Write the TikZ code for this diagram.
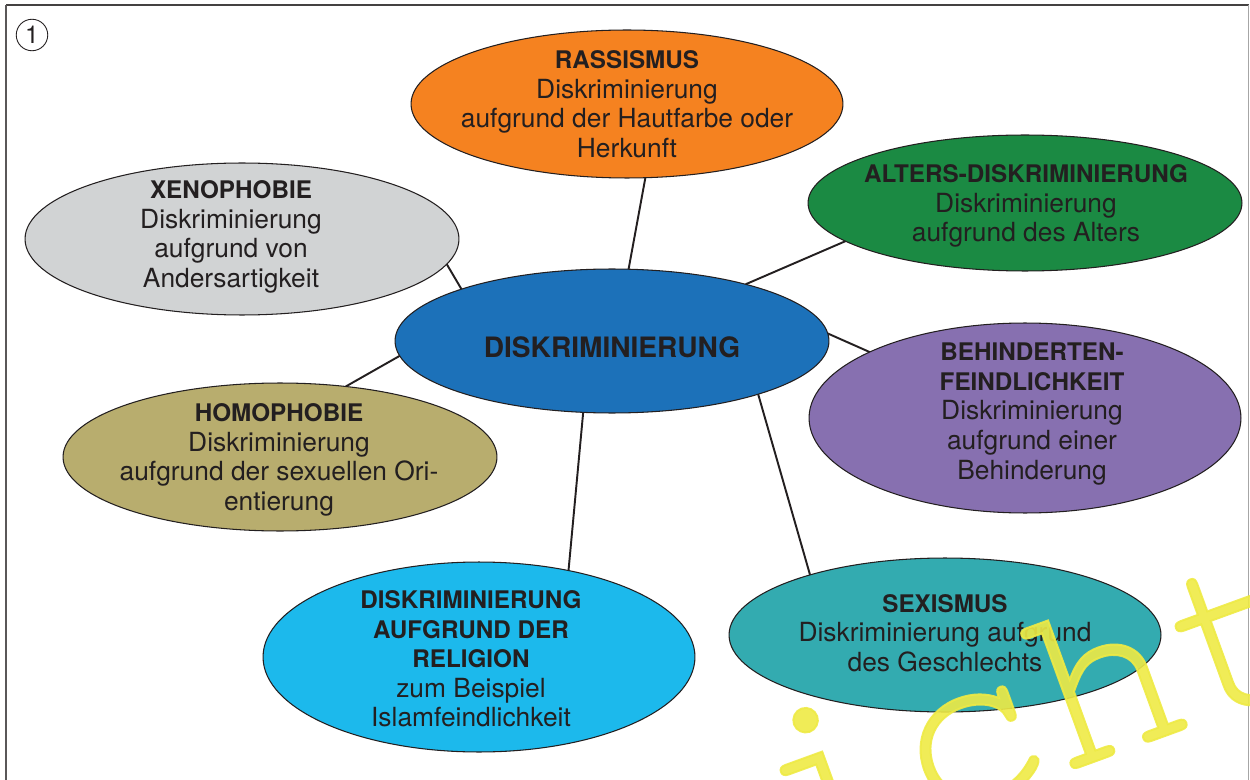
\documentclass[tikz,border=0pt]{standalone}
\usepackage{fontspec}
\setmainfont{TeX Gyre Heros}
\newfontfamily\wmfont{TeX Gyre Cursor}[FakeBold=0.8]
\usetikzlibrary{shapes.geometric,backgrounds}
\definecolor{cOrange}{HTML}{F58220}
\definecolor{cGreen}{HTML}{1B8A43}
\definecolor{cGrey}{HTML}{D1D3D4}
\definecolor{cBlue}{HTML}{1C71B9}
\definecolor{cPurple}{HTML}{8770B0}
\definecolor{cKhaki}{HTML}{B8AD6E}
\definecolor{cCyan}{HTML}{1CB9EC}
\definecolor{cTeal}{HTML}{33ABB0}
\definecolor{cText}{HTML}{231F20}
\definecolor{cYellow}{HTML}{EEEA45}
\newcommand\hd[1]{{\fontsize{13.8}{16.8}\selectfont\bfseries #1}}
\tikzset{
  bub/.style={ellipse, draw=cText, line width=0.6pt, inner sep=0pt, outer sep=0pt},
  lbl/.style={align=center, text=cText, font=\fontsize{15}{16.8}\selectfont, inner sep=0pt},
  con/.style={draw=cText, line width=1.1pt},
}
\begin{document}
\begin{tikzpicture}[x=0.02cm,y=-0.02cm]
\useasboundingbox (0,0) rectangle (1250,780);
% frame
\draw[line width=1.2pt, color=cText!85] (6,5) -- (1249,5);
\draw[line width=1pt, color=cText!75] (6,5) -- (6,780);
\draw[line width=0.5pt, color=black!35] (1248.5,5) -- (1248.5,780);
% number
\node[circle, draw=cText, line width=0.5pt, minimum size=0.63cm, inner sep=0pt,
      font=\fontsize{14}{14}\selectfont, text=cText] (num) at (32,35) {1};
% bubbles
\node[bub, fill=cBlue,   minimum width=8.68cm, minimum height=2.88cm] (C)   at (612,341) {};
\node[bub, fill=cOrange, minimum width=8.64cm, minimum height=2.96cm] (R)   at (627,104) {};
\node[bub, fill=cGreen,  minimum width=8.68cm, minimum height=2.72cm] (A)   at (1025,203) {};
\node[bub, fill=cGrey,   minimum width=8.68cm, minimum height=3.04cm] (X)   at (242,239) {};
\node[bub, fill=cPurple, minimum width=8.64cm, minimum height=3.80cm] (B)   at (1025,418) {};
\node[bub, fill=cKhaki,  minimum width=8.68cm, minimum height=2.96cm] (H)   at (280,457) {};
\node[bub, fill=cCyan,   minimum width=8.64cm, minimum height=3.80cm] (Rel) at (479,657) {};
\node[bub, fill=cTeal,   minimum width=8.64cm, minimum height=3.08cm] (S)   at (945,635) {};
% connectors
\begin{scope}[on background layer]
\draw[con] (C.77.6) -- (R.-76.3);
\draw[con] (C.23.1) -- (A.-168.8);
\draw[con] (C.161.9) -- (X.-7.3);
\draw[con] (C.184) -- (H.47.4);
\draw[con] (C.2.1) -- (B.157);
\draw[con] (C.-112.9) -- (Rel.44);
\draw[con] (C.-20) -- (S.156);
\end{scope}
% labels
\node[lbl, font=\fontsize{16}{18}\selectfont\bfseries] (Ct) at (612,347) {DISKRIMINIERUNG};
\node[lbl] (Rt) at (627,104) {\hd{RASSISMUS}\\Diskriminierung\\aufgrund der Hautfarbe oder\\Herkunft};
\node[lbl] (At) at (1026,206) {\hd{ALTERS-DISKRIMINIERUNG}\\Diskriminierung\\aufgrund des Alters};
\node[lbl] (Xt) at (231,237) {\hd{XENOPHOBIE}\\Diskriminierung\\aufgrund von\\Andersartigkeit};
\node[lbl] (Bt) at (1032,414) {\hd{BEHINDERTEN-}\\\hd{FEINDLICHKEIT}\\Diskriminierung\\aufgrund einer\\Behinderung};
\node[lbl] (Ht) at (279,460) {\hd{HOMOPHOBIE}\\Diskriminierung\\aufgrund der sexuellen Ori-\\entierung};
\node[lbl] (Relt) at (471,659) {\hd{DISKRIMINIERUNG}\\\hd{AUFGRUND DER}\\\hd{RELIGION}\\zum Beispiel\\Islamfeindlichkeit};
\node[lbl] (St) at (945,633) {\hd{SEXISMUS}\\Diskriminierung aufgrund\\des Geschlechts};
% watermark
\begin{scope}
\clip (0,0) rectangle (1250,780);
\node[rotate=20, anchor=base west, inner sep=0pt, text=cYellow, opacity=0.9,
      font=\wmfont\fontsize{140}{140}\selectfont] (wm) at (783,875) {icht};
\end{scope}
\end{tikzpicture}
\end{document}
